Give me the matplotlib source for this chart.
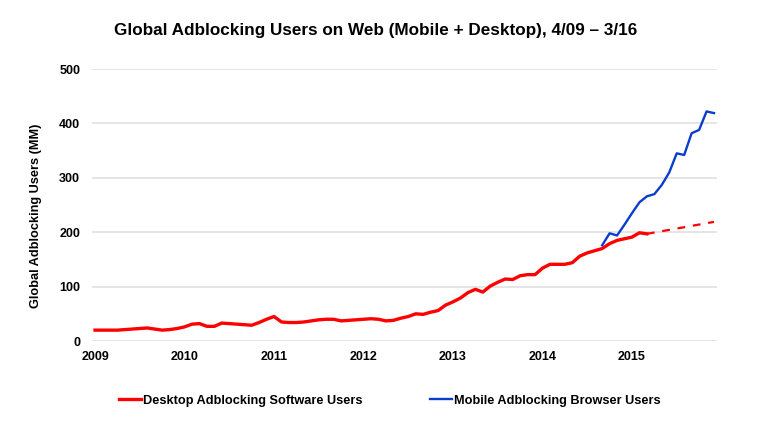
import numpy as np
import matplotlib.pyplot as plt

# monthly readings, Jan 2009 .. Mar 2015 (millions)
desktop_users = [20, 20, 20, 20, 21, 22, 23, 24, 22, 20, 21, 23,
                 26, 31, 32, 27, 27, 33, 32, 31, 30, 29, 34, 40,
                 45, 35, 34, 34, 35, 37, 39, 40, 40, 37, 38, 39,
                 40, 41, 40, 37, 38, 42, 45, 50, 49, 53, 56, 66,
                 72, 79, 89, 95, 90, 101, 108, 114, 113, 120, 122, 122,
                 134, 141, 141, 141, 144, 156, 162, 166, 170, 179, 185, 188,
                 191, 199, 197]
desktop_x = [2009 + i / 12 for i in range(len(desktop_users))]

# dashed projection for desktop
proj_x = [2015 + 2 / 12, 2015 + 11 / 12]
proj_users = [197, 219]

# Sep 2014 .. Dec 2015
mobile_users = [176, 198, 194, 214, 235, 255, 266, 270, 287, 310, 345, 342,
                382, 388, 422, 419]
mobile_x = [2014 + 8 / 12 + i / 12 for i in range(len(mobile_users))]

years = [2009, 2010, 2011, 2012, 2013, 2014, 2015]
yticks = [0, 100, 200, 300, 400, 500]

plt.rcParams['font.family'] = ['Liberation Sans', 'DejaVu Sans']
plt.rcParams['font.weight'] = 'bold'

fig = plt.figure(figsize=(7.58, 4.43), dpi=100)
ax = fig.add_axes([0.1214, 0.2302, 0.8245, 0.614])

red = '#ff0000'
blue = '#0a3dcc'
ax.plot(desktop_x, desktop_users, color=red, lw=2.4, solid_joinstyle='round',
        label='Desktop Adblocking Software Users', zorder=3)
ax.plot(proj_x, proj_users, color=red, lw=1.6, dashes=(3.5, 3.5), zorder=3)
ax.plot(mobile_x, mobile_users, color=blue, lw=1.7, solid_joinstyle='round',
        label='Mobile Adblocking Browser Users', zorder=3)

ax.set_xlim(2008.966, 2015.95)
ax.set_ylim(0, 500)
ax.set_xticks(years)
ax.set_xticklabels([str(y) for y in years])
ax.set_yticks(yticks)
ax.grid(axis='y', color='#e3e3e3', lw=1.3)
ax.set_axisbelow(True)
for s in ax.spines.values():
    s.set_visible(False)
ax.tick_params(length=0, labelsize=9)
ax.tick_params(axis='y', pad=8.5)
ax.tick_params(axis='x', pad=7)
for lab in ax.get_xticklabels() + ax.get_yticklabels():
    lab.set_fontweight('bold')

ax.set_ylabel('Global Adblocking Users (MM)', fontsize=9.2, fontweight='bold')
ax.yaxis.set_label_coords(-0.08, 0.46)

fig.text(0.496, 0.932, 'Global Adblocking Users on Web (Mobile + Desktop), 4/09 \u2013 3/16',
         ha='center', va='center', fontsize=12.3, fontweight='bold')

fig.legend(loc='center', bbox_to_anchor=(0.5145, 0.095), ncol=2, frameon=False,
           handlelength=1.72, handletextpad=0.15, columnspacing=5.3,
           prop={'weight': 'bold', 'size': 9.2})

fig.savefig('out.png', dpi=100)
